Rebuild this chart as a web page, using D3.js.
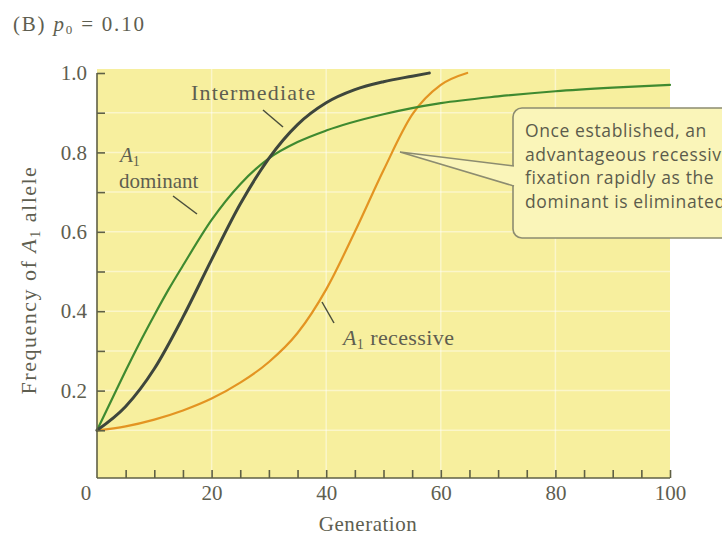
<!DOCTYPE html>
<html>
<head>
<meta charset="utf-8">
<script src="https://cdn.jsdelivr.net/npm/d3@7"></script>
<style>
  body { margin: 0; background: #fff; }
  svg { display: block; }
  .serif { font-family: "Liberation Serif", "DejaVu Serif", serif; fill: #5e5e50; }
  .callout { font-family: "Open Sans", "Noto Sans", sans-serif; fill: #5c5c4c; }
</style>
</head>
<body>
<div id="chart"></div>
<script>
const width = 722;
const height = 545;

// values
const intermediateGen  = [0, 5, 10, 15, 20, 25, 30, 35, 40, 45, 50, 55, 58];
const intermediateFreq = [0.10, 0.16, 0.255, 0.385, 0.53, 0.67, 0.785, 0.87, 0.925, 0.958, 0.978, 0.992, 1.0];

const dominantGen  = [0, 2.5, 5, 7.5, 10, 12.5, 15, 20, 25, 30, 35, 40, 50, 60, 70, 80, 90, 100];
const dominantFreq = [0.10, 0.175, 0.25, 0.322, 0.39, 0.455, 0.515, 0.63, 0.72, 0.785, 0.826, 0.855, 0.896, 0.924, 0.941, 0.954, 0.963, 0.97];

const recessiveGen  = [0, 5, 10, 15, 20, 25, 30, 35, 40, 45, 50, 55, 60, 64.6];
const recessiveFreq = [0.10, 0.11, 0.127, 0.15, 0.18, 0.22, 0.272, 0.345, 0.455, 0.6, 0.755, 0.895, 0.97, 1.0];

const xLabelTicks = [0, 20, 40, 60, 80, 100];
const yLabelTicks = [0.2, 0.4, 0.6, 0.8, 1.0];
const calloutLines = [
  'Once established, an',
  'advantageous recessive goes to',
  'fixation rapidly as the',
  'dominant is eliminated.'
];

const svg = d3.select('#chart')
  .append('svg')
  .attr('width', width)
  .attr('height', height);

const plot = { left: 97, right: 670, top: 69, bottom: 478 };

const x = d3.scaleLinear().domain([0, 100]).range([97, 670]);
const y = d3.scaleLinear().domain([0, 1]).range([470, 73]);

// yellow panel
svg.append('rect')
  .attr('x', plot.left)
  .attr('y', plot.top)
  .attr('width', plot.right - plot.left)
  .attr('height', plot.bottom - plot.top)
  .attr('fill', '#f7ef9e');

// faint white grid
const grid = svg.append('g').attr('stroke', '#fff').attr('stroke-opacity', 0.45).attr('stroke-width', 1.5);
grid.selectAll('.gv').data([20, 40, 60, 80]).join('line')
  .attr('x1', d => x(d)).attr('x2', d => x(d))
  .attr('y1', plot.top).attr('y2', plot.bottom);
grid.selectAll('.gh').data(d3.range(1, 10).map(d => d / 10)).join('line')
  .attr('x1', plot.left).attr('x2', plot.right)
  .attr('y1', d => y(d)).attr('y2', d => y(d));

// curves
const line = d3.line()
  .x(d => x(d[0]))
  .y(d => y(d[1]))
  .curve(d3.curveMonotoneX);

const series = [
  { gen: recessiveGen, freq: recessiveFreq, color: '#e39422', w: 2.2 },
  { gen: dominantGen, freq: dominantFreq, color: '#3f8a30', w: 2.2 },
  { gen: intermediateGen, freq: intermediateFreq, color: '#3e463c', w: 3 }
];

svg.append('g').selectAll('path').data(series).join('path')
  .attr('d', s => line(d3.zip(s.gen, s.freq)))
  .attr('fill', 'none')
  .attr('stroke', s => s.color)
  .attr('stroke-width', s => s.w)
  .attr('stroke-linecap', 'round');

// axes, ticks point into the panel
const yAxis = d3.axisLeft(y)
  .tickValues(d3.range(1, 11).map(d => d / 10))
  .tickSize(-8)
  .tickPadding(10)
  .tickFormat(d => yLabelTicks.some(v => Math.abs(v - d) < 1e-9) ? d3.format('.1f')(d) : '');

const gy = svg.append('g')
  .attr('transform', `translate(${plot.left},0)`)
  .call(yAxis);

const xAxis = d3.axisBottom(x)
  .tickValues(d3.range(5, 101, 5))
  .tickSize(-8)
  .tickPadding(7)
  .tickFormat(d => xLabelTicks.includes(d) ? d : '');

const gx = svg.append('g')
  .attr('transform', `translate(0,${plot.bottom})`)
  .call(xAxis);

[gx, gy].forEach(g => {
  g.select('.domain').remove();
  g.selectAll('.tick line').attr('stroke', '#5f6045').attr('stroke-width', 1.6);
  g.selectAll('.tick text')
    .attr('class', 'serif')
    .style('font-size', '21px');
});

svg.append('line')
  .attr('x1', plot.left).attr('x2', plot.left)
  .attr('y1', y(1)).attr('y2', plot.bottom)
  .attr('stroke', '#5f6045').attr('stroke-width', 1.6);
svg.append('line')
  .attr('x1', plot.left).attr('x2', x(100))
  .attr('y1', plot.bottom).attr('y2', plot.bottom)
  .attr('stroke', '#5f6045').attr('stroke-width', 1.6);

// shared zero at the corner
svg.append('text')
  .attr('class', 'serif')
  .attr('x', 86).attr('y', 500)
  .attr('text-anchor', 'middle')
  .style('font-size', '21px')
  .text('0');

// axis titles
svg.append('text')
  .attr('class', 'serif')
  .attr('x', 368).attr('y', 531)
  .attr('text-anchor', 'middle')
  .style('font-size', '21px')
  .style('letter-spacing', '0.5px')
  .text('Generation');

const yTitle = svg.append('text')
  .attr('class', 'serif')
  .attr('transform', 'translate(36,280) rotate(-90)')
  .attr('text-anchor', 'middle')
  .style('font-size', '22px')
  .style('letter-spacing', '1.5px');
yTitle.append('tspan').text('Frequency of ');
yTitle.append('tspan').style('font-style', 'italic').text('A');
yTitle.append('tspan').attr('baseline-shift', '-25%').style('font-size', '14px').text('1');
yTitle.append('tspan').text(' allele');

// panel title
const title = svg.append('text')
  .attr('class', 'serif')
  .attr('x', 13).attr('y', 31)
  .style('font-size', '21px')
  .style('letter-spacing', '1.8px');
title.append('tspan').text('(B) ');
title.append('tspan').style('font-style', 'italic').text('p');
title.append('tspan').attr('baseline-shift', '-25%').style('font-size', '13px').text('0');
title.append('tspan').text(' = 0.10');

// curve labels
const pointer = (x1, y1, x2, y2) => svg.append('line')
  .attr('x1', x1).attr('y1', y1).attr('x2', x2).attr('y2', y2)
  .attr('stroke', '#4a4e3c').attr('stroke-width', 1.5);

svg.append('text').attr('class', 'serif')
  .attr('x', 191).attr('y', 100)
  .style('font-size', '22px')
  .style('letter-spacing', '1.2px')
  .text('Intermediate');
pointer(263, 110, 283, 127);

const domA = svg.append('text').attr('class', 'serif')
  .attr('x', 120).attr('y', 162)
  .style('font-size', '21px');
domA.append('tspan').style('font-style', 'italic').text('A');
domA.append('tspan').attr('baseline-shift', '-25%').style('font-size', '14px').text('1');
svg.append('text').attr('class', 'serif')
  .attr('x', 119).attr('y', 188)
  .style('font-size', '21px')
  .text('dominant');
pointer(173, 196, 197, 214);

const recA = svg.append('text').attr('class', 'serif')
  .attr('x', 343).attr('y', 345)
  .style('font-size', '22px')
  .style('letter-spacing', '0.4px');
recA.append('tspan').style('font-style', 'italic').text('A');
recA.append('tspan').attr('baseline-shift', '-25%').style('font-size', '14px').text('1');
recA.append('tspan').text(' recessive');
pointer(322, 302, 334, 323);

// callout box with wedge
const box = { x: 513, y: 108, w: 240, h: 130, r: 9 };
const calloutFill = '#faf5b9';
svg.append('rect')
  .attr('x', box.x).attr('y', box.y)
  .attr('width', box.w).attr('height', box.h)
  .attr('rx', box.r)
  .attr('fill', calloutFill)
  .attr('stroke', '#8c8c70')
  .attr('stroke-width', 1.6);
svg.append('path')
  .attr('d', `M${box.x + 1},166 L400,152 L${box.x + 1},186`)
  .attr('fill', calloutFill)
  .attr('stroke', '#8c8c70')
  .attr('stroke-width', 1.6);
svg.append('rect')
  .attr('x', box.x - 0.5).attr('y', 167)
  .attr('width', 3).attr('height', 18)
  .attr('fill', calloutFill);

svg.append('g').selectAll('text').data(calloutLines).join('text')
  .attr('class', 'callout')
  .attr('x', 525)
  .attr('y', (d, i) => 137 + i * 23.5)
  .style('font-size', '17.5px')
  .style('letter-spacing', '0.6px')
  .text(d => d);
</script>
</body>
</html>
